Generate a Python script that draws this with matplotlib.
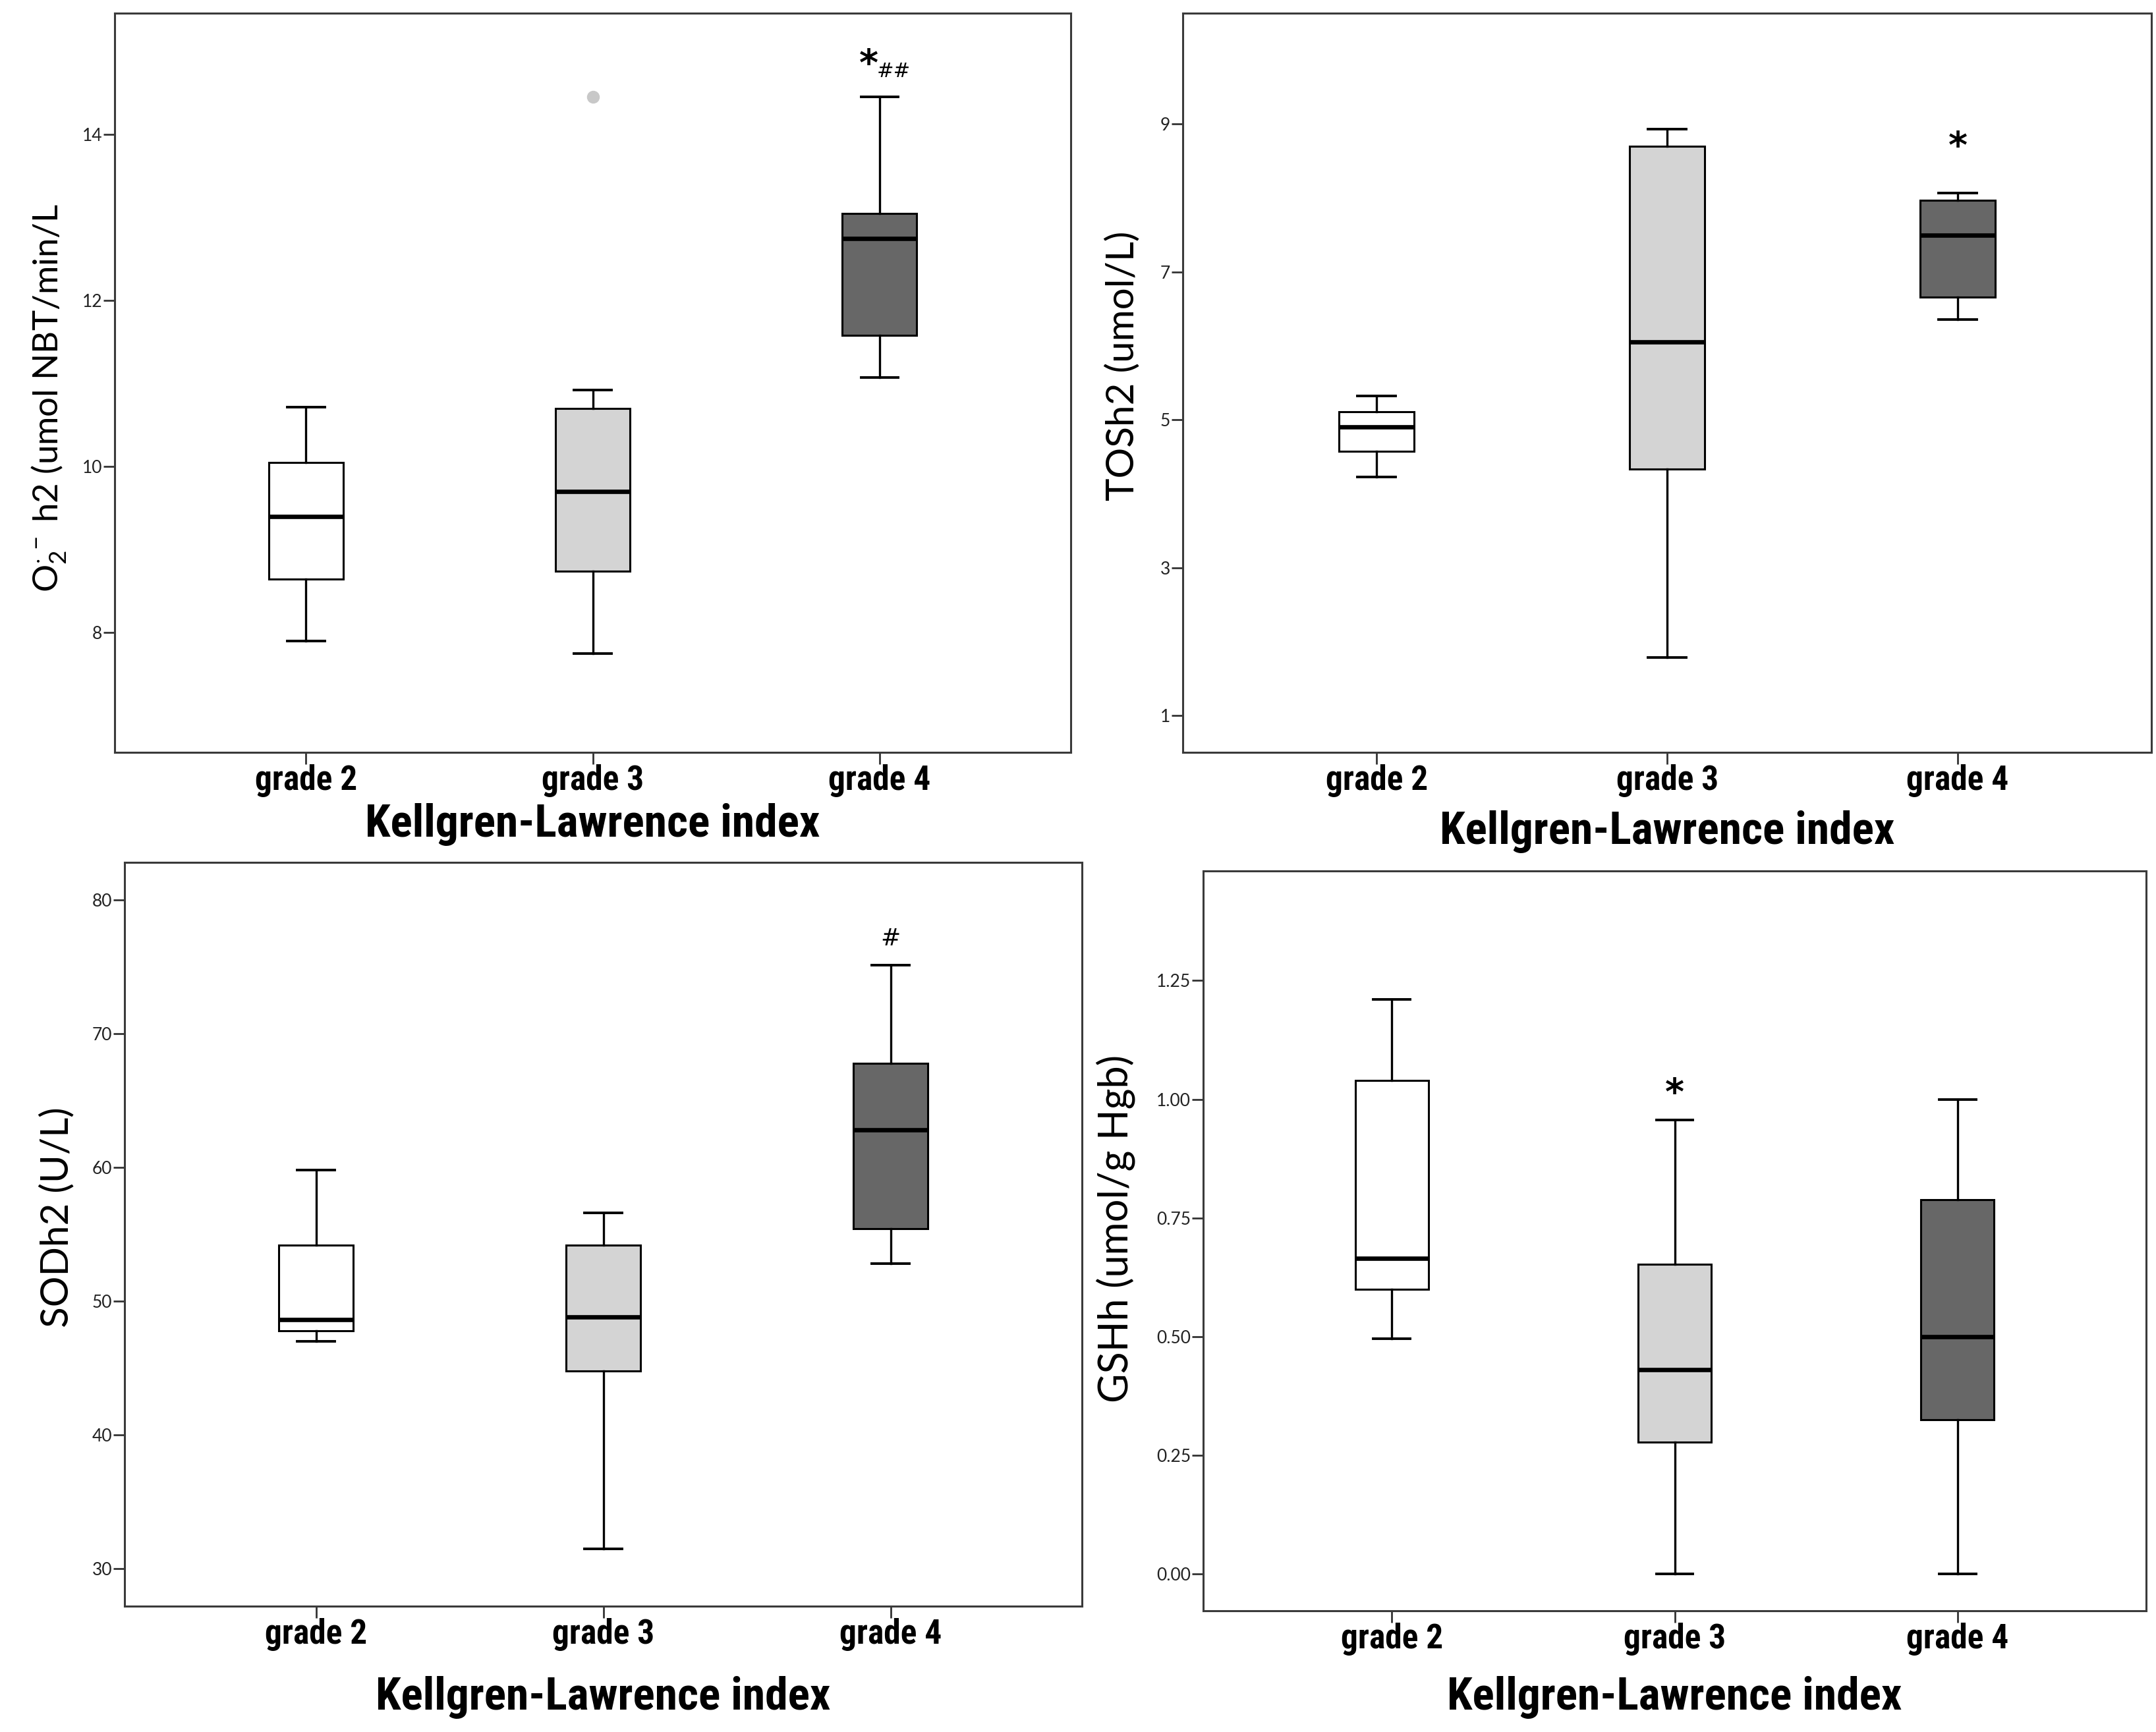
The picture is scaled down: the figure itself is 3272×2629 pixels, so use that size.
import numpy as np
import matplotlib
matplotlib.use("Agg")
import matplotlib.pyplot as plt
from matplotlib import font_manager as fm

# --- données (whisker bas, Q1, médiane, Q3, whisker haut) ---
grades = ["grade 2", "grade 3", "grade 4"]

o2_lo = [7.90, 7.75, 11.07]
o2_q1 = [8.65, 8.74, 11.58]
o2_med = [9.40, 9.70, 12.75]
o2_q3 = [10.05, 10.70, 13.05]
o2_hi = [10.72, 10.92, 14.45]
o2_fliers = [[], [14.45], []]

tos_lo = [4.23, 1.78, 6.36]
tos_q1 = [4.57, 4.33, 6.66]
tos_med = [4.90, 6.05, 7.50]
tos_q3 = [5.11, 8.70, 7.97]
tos_hi = [5.32, 8.93, 8.07]

sod_lo = [47.0, 31.5, 52.8]
sod_q1 = [47.8, 44.8, 55.4]
sod_med = [48.6, 48.8, 62.8]
sod_q3 = [54.2, 54.2, 67.8]
sod_hi = [59.8, 56.6, 75.1]

gsh_lo = [0.495, 0.0, 0.0]
gsh_q1 = [0.600, 0.277, 0.325]
gsh_med = [0.665, 0.430, 0.500]
gsh_q3 = [1.040, 0.652, 0.788]
gsh_hi = [1.210, 0.956, 1.000]

fills = ["#ffffff", "#d4d4d4", "#676767"]

# police étroite si disponible (style SPSS)
installed = {f.name for f in fm.fontManager.ttflist}
narrow = None
for nm in ["Liberation Sans Narrow", "Arial Narrow", "Roboto Condensed",
           "Noto Sans Condensed", "Open Sans Condensed", "DejaVu Sans Condensed"]:
    if nm in installed:
        narrow = nm
        break
if narrow is None:
    cond = [f.name for f in fm.fontManager.ttflist
            if f.stretch in ("condensed", "semi-condensed", "extra-condensed")]
    narrow = cond[0] if cond else "DejaVu Sans"
NARROW = [narrow, "DejaVu Sans"]
STRETCH = "condensed"
YFONT = ["Lato", "DejaVu Sans"]

plt.rcParams["mathtext.fontset"] = "custom"
plt.rcParams["mathtext.rm"] = "Lato"
plt.rcParams["mathtext.it"] = "Lato"


def stats(lo, q1, med, q3, hi, fl=None):
    out = []
    for i in range(len(lo)):
        out.append(dict(whislo=lo[i], q1=q1[i], med=med[i], q3=q3[i],
                        whishi=hi[i], fliers=(fl[i] if fl else [])))
    return out


def panel(ax, st, ylim, yticks, ytlab, ylabel, ysize, ylab_xy, xlab_y):
    bp = ax.bxp(st, positions=[1, 2, 3], widths=0.26, capwidths=0.13,
                patch_artist=True, showfliers=True,
                boxprops=dict(edgecolor="black", linewidth=1.1),
                medianprops=dict(color="black", linewidth=2.4),
                whiskerprops=dict(color="black", linewidth=1.2),
                capprops=dict(color="black", linewidth=1.4),
                flierprops=dict(marker="o", markerfacecolor="#c8c8c8",
                                markeredgecolor="#c8c8c8", markersize=6))
    for p, c in zip(bp["boxes"], fills):
        p.set_facecolor(c)
    ax.set_xlim(1 - 0.667, 3 + 0.667)
    ax.set_ylim(*ylim)
    ax.set_yticks(yticks)
    ax.set_yticklabels(ytlab, family=YFONT, fontsize=9.5, color="#222222")
    ax.set_xticks([1, 2, 3])
    ax.set_xticklabels(grades, family=NARROW, fontstretch=STRETCH,
                       fontsize=18.5, fontweight="bold")
    ax.tick_params(axis="y", length=6, width=1.0, pad=0.8, color="#333333")
    ax.tick_params(axis="x", length=6.5, width=1.0, pad=0, color="#333333")
    for s in ax.spines.values():
        s.set_color("#3a3a3a")
        s.set_linewidth(1.1)
    ax.set_xlabel("Kellgren-Lawrence index", family=NARROW, fontstretch=STRETCH,
                  fontsize=25, fontweight="bold", va="center")
    ax.xaxis.set_label_coords(0.5, xlab_y)
    ax.set_ylabel(ylabel, family=YFONT, fontsize=ysize, va="baseline")
    ax.yaxis.set_label_coords(*ylab_xy)


fig = plt.figure(figsize=(16.36, 13.145), dpi=200)

ax1 = fig.add_axes([0.0532, 0.5656, 0.4435, 0.4268])
panel(ax1, stats(o2_lo, o2_q1, o2_med, o2_q3, o2_hi, o2_fliers),
      (6.56, 15.46), [8, 10, 12, 14], ["8", "10", "12", "14"],
      r"O$_2^{\cdot\,-}$ h2 (umol NBT/min/L", 19, (-0.0593, 0.479), -0.098)
ax1.text(2.962, 14.83, "*", ha="center", va="center", fontsize=20, fontweight="bold")
ax1.text(3.05, 14.76, "##", ha="center", va="center", fontsize=11)

ax2 = fig.add_axes([0.5486, 0.5656, 0.4493, 0.4268])
panel(ax2, stats(tos_lo, tos_q1, tos_med, tos_q3, tos_hi),
      (0.5, 10.5), [1, 3, 5, 7, 9], ["1", "3", "5", "7", "9"],
      "TOSh2 (umol/L)", 21, (-0.0504, 0.523), -0.107)
ax2.text(3, 8.68, "*", ha="center", va="center", fontsize=20, fontweight="bold")

ax3 = fig.add_axes([0.0578, 0.0727, 0.4441, 0.4294])
panel(ax3, stats(sod_lo, sod_q1, sod_med, sod_q3, sod_hi),
      (27.2, 82.8), [30, 40, 50, 60, 70, 80],
      ["30", "40", "50", "60", "70", "80"],
      "SODh2 (U/L)", 21, (-0.0592, 0.523), -0.123)
ax3.text(3, 77.1, "#", ha="center", va="center", fontsize=13)

ax4 = fig.add_axes([0.5581, 0.0700, 0.4373, 0.4271])
panel(ax4, stats(gsh_lo, gsh_q1, gsh_med, gsh_q3, gsh_hi),
      (-0.078, 1.481), [0, 0.25, 0.5, 0.75, 1.0, 1.25],
      ["0.00", "0.25", "0.50", "0.75", "1.00", "1.25"],
      "GSHh (umol/g Hgb)", 22, (-0.0799, 0.517), -0.1175)
ax4.text(2, 1.01, "*", ha="center", va="center", fontsize=20, fontweight="bold")

fig.savefig("out.png", dpi=200, facecolor="white")
